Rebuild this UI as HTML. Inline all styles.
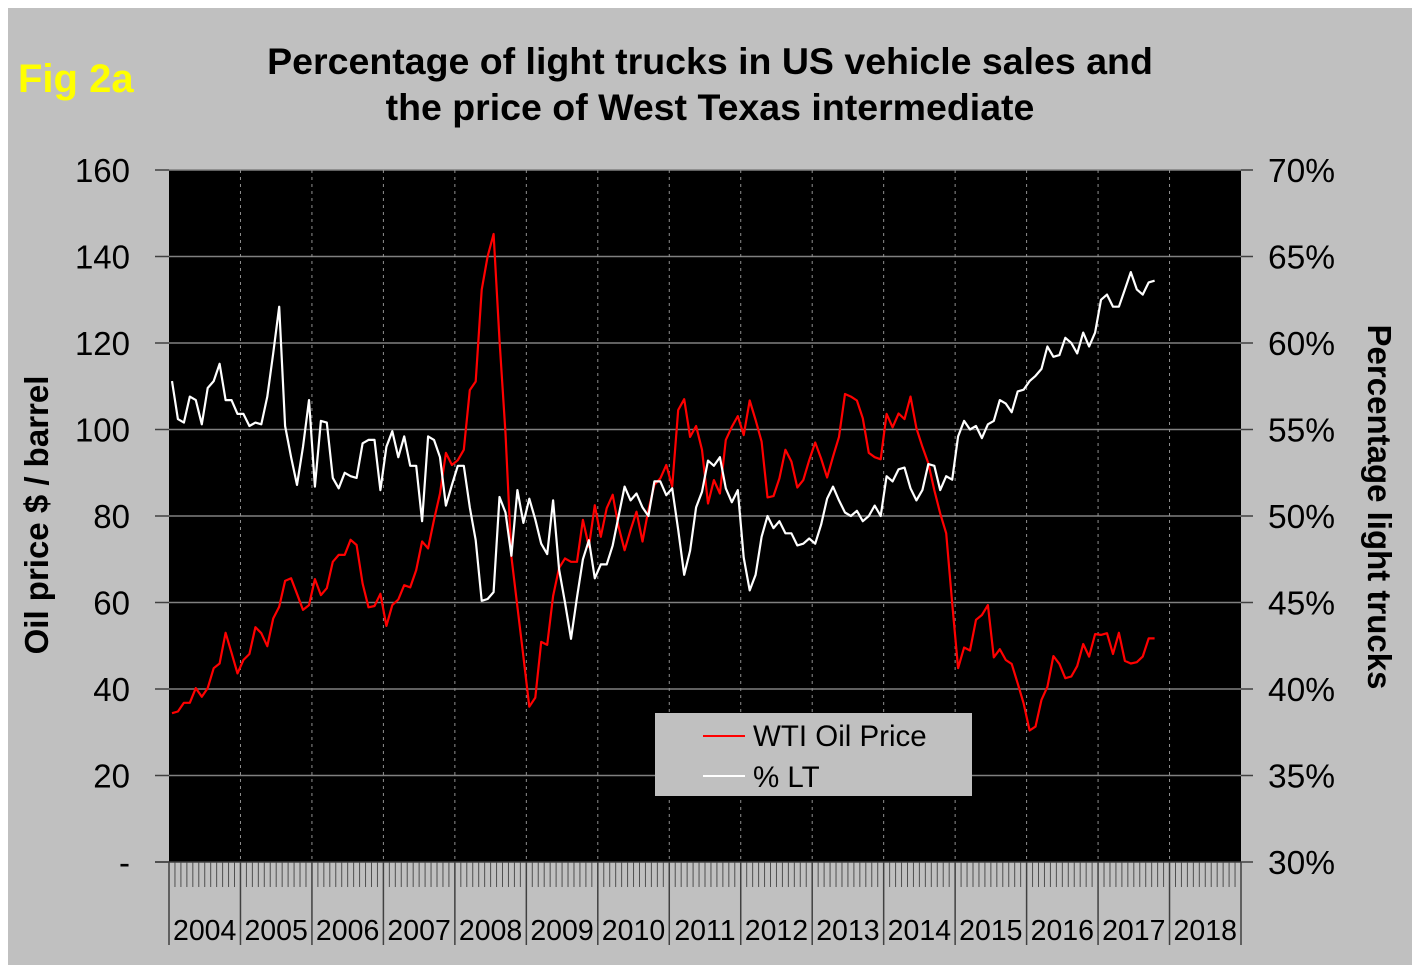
<!DOCTYPE html>
<html><head><meta charset="utf-8"><style>
html,body{margin:0;padding:0;background:#fff;}
svg{display:block;font-family:"Liberation Sans",Arial,sans-serif;}
</style></head><body>
<svg id="chart" width="1420" height="973" viewBox="0 0 1420 973">
<rect x="8" y="8" width="1404" height="957" fill="#c0c0c0"/>
<text x="18" y="92" font-size="40" font-weight="bold" fill="#ffff00">Fig 2a</text>
<text x="710" y="74" font-size="37.5" font-weight="bold" text-anchor="middle">Percentage of light trucks in US vehicle sales and</text>
<text x="710" y="120" font-size="37.5" font-weight="bold" text-anchor="middle">the price of West Texas intermediate</text>
<rect x="169" y="170" width="1072" height="692" fill="#000"/>
<g id="grid"></g>
<g id="axes"></g>
<g id="series"></g>
<text transform="translate(48,515) rotate(-90)" font-size="33" font-weight="bold" text-anchor="middle">Oil price $ / barrel</text>
<text transform="translate(1368,507) rotate(90)" font-size="33" font-weight="bold" text-anchor="middle">Percentage light trucks</text>
<g>
<rect x="655" y="713" width="317" height="83" fill="#c0c0c0"/>
<line x1="703" y1="736" x2="745" y2="736" stroke="#ff0000" stroke-width="2"/>
<text x="753" y="746" font-size="29.5">WTI Oil Price</text>
<line x1="703" y1="776" x2="745" y2="776" stroke="#fff" stroke-width="2"/>
<text x="753" y="787" font-size="29.5">% LT</text>
</g>
</svg>
<script>
const years = ["2004","2005","2006","2007","2008","2009","2010","2011","2012","2013","2014","2015","2016","2017","2018"];
const leftTicks = [0,20,40,60,80,100,120,140,160];
const leftTickLabels = ["-","20","40","60","80","100","120","140","160"];
const rightTickLabels = ["30%","35%","40%","45%","50%","55%","60%","65%","70%"];
const oilPrice = [34.4,34.8,36.8,36.8,40.2,38.2,40.2,44.8,45.9,53.0,48.4,43.6,
46.7,48.1,54.3,52.9,49.9,56.3,59.0,65.0,65.6,62.0,58.3,59.4,
65.4,61.7,63.3,69.4,71.0,71.0,74.5,73.3,64.4,58.9,59.2,62.0,
54.6,59.4,60.7,64.0,63.5,67.5,74.1,72.5,79.1,85.2,94.6,91.8,
92.9,95.3,109.1,111.1,132.3,140.0,145.2,120.7,99.1,70.6,59.0,47.5,
35.9,38.0,50.9,50.2,61.5,68.0,70.2,69.4,69.4,79.1,72.9,82.5,
75.2,81.8,84.9,77.5,72.1,76.8,81.0,74.1,81.4,87.2,88.7,91.8,
86.8,104.5,107.0,98.3,100.8,95.3,82.9,88.3,85.2,97.6,100.6,103.1,
98.7,106.7,102.2,97.2,84.3,84.6,88.7,95.3,92.6,86.6,88.3,92.9,
97.0,93.3,88.9,93.7,98.3,108.2,107.6,106.7,102.6,94.6,93.6,93.1,
103.6,100.5,103.7,102.4,107.6,100.3,96.0,92.2,86.0,80.6,76.0,59.8,
44.8,49.6,48.9,56.0,57.1,59.4,47.3,49.2,46.7,45.8,41.3,36.7,
30.4,31.3,37.5,40.5,47.6,45.8,42.5,42.9,45.3,50.4,47.5,52.7,
52.5,52.9,48.1,53.0,46.5,45.9,46.2,47.5,51.7,51.7];
const ltPct = [57.8,55.6,55.4,56.9,56.7,55.3,57.4,57.8,58.8,56.7,56.7,55.9,
55.9,55.2,55.4,55.3,56.9,59.4,62.1,55.2,53.4,51.8,54.0,56.7,
51.7,55.5,55.4,52.2,51.6,52.5,52.3,52.2,54.2,54.4,54.4,51.5,
54.0,54.9,53.4,54.6,52.9,52.9,49.7,54.6,54.4,53.4,50.6,51.8,
52.9,52.9,50.5,48.6,45.1,45.2,45.6,51.1,50.2,47.7,51.5,49.6,
51.0,49.8,48.4,47.8,50.9,46.9,45.0,42.9,45.3,47.5,48.6,46.4,
47.2,47.2,48.3,50.0,51.7,50.9,51.3,50.5,50.0,52.0,52.0,51.2,
51.6,49.2,46.6,48.0,50.5,51.4,53.2,52.9,53.4,51.6,50.8,51.5,
47.6,45.7,46.6,48.8,50.0,49.3,49.7,49.0,49.0,48.3,48.4,48.7,
48.4,49.5,51.0,51.7,50.9,50.2,50.0,50.3,49.7,50.0,50.6,50.0,
52.3,52.0,52.7,52.8,51.6,50.9,51.5,53.0,52.9,51.5,52.3,52.1,
54.6,55.5,55.0,55.2,54.5,55.3,55.5,56.7,56.5,56.0,57.2,57.3,
57.8,58.1,58.5,59.8,59.2,59.3,60.3,60.0,59.4,60.6,59.8,60.6,
62.5,62.8,62.1,62.1,63.1,64.1,63.1,62.8,63.5,63.6];

const NS="http://www.w3.org/2000/svg";
const X0=169, X1=1241, Y0=862, Y1=170;
const nMonths = years.length*12;
const mw=(X1-X0)/nMonths;
function xMonth(i){return X0+mw*(i+0.5);}
function yLeft(v){return Y0-(v/160)*(Y0-Y1);}
function yRight(p){return Y0-((p-30)/40)*(Y0-Y1);}
function mk(tag,attrs,parent,text){const e=document.createElementNS(NS,tag);for(const k in attrs)e.setAttribute(k,attrs[k]);if(text!==undefined)e.textContent=text;parent.appendChild(e);return e;}
const grid=document.getElementById('grid'), axes=document.getElementById('axes'), series=document.getElementById('series');

leftTicks.forEach((v,i)=>{
  const y=yLeft(v);
  if(i>0){const g=mk('line',{x1:X0,x2:X1,y1:y,y2:y,stroke:'#808080','stroke-width':1.5},grid);
  
  }
  const t=mk('line',{x1:155,x2:X0,y1:y,y2:y,stroke:'#404040','stroke-width':1.5},axes);
  
  
  const lt=mk('text',{x:130,y:y+12,'font-size':33,'text-anchor':'end'},axes,leftTickLabels[i]);
  
  
  const t2=mk('line',{x1:X1,x2:X1+12,y1:y,y2:y,stroke:'#404040','stroke-width':1.5},axes);
  
  
  const rt=mk('text',{x:1268,y:y+12,'font-size':33.5},axes,rightTickLabels[i]);
  
  
});
years.forEach((yr,k)=>{
  const x=X0+k*12*mw;
  if(k>0){const d=mk('line',{x1:x,x2:x,y1:Y1,y2:Y0,stroke:'#909090','stroke-width':1,'stroke-dasharray':'3,4'},grid);
  
  }
  const s=mk('line',{x1:x,x2:x,y1:Y0,y2:945,stroke:'#404040','stroke-width':1.5},axes);
  
  
  const lb=mk('text',{x:x+35.7,y:940,'font-size':28.5,'text-anchor':'middle'},axes,yr);
  
  
  for(let m=1;m<12;m++){const xm=x+m*mw;
    const mt=mk('line',{x1:xm,x2:xm,y1:Y0,y2:887,stroke:'#505050','stroke-width':1},axes);
    
    }
});
const endLine=mk('line',{x1:X1,x2:X1,y1:Y0,y2:945,stroke:'#404040','stroke-width':1.5},axes);


const xax=mk('line',{x1:155,x2:X1,y1:Y0,y2:Y0,stroke:'#404040','stroke-width':1.5},axes);



const oilPts=oilPrice.map((v,i)=>xMonth(i).toFixed(1)+','+yLeft(v).toFixed(1)).join(' ');
const oil=mk('polyline',{points:oilPts,fill:'none',stroke:'#ff0000','stroke-width':2.2,'stroke-linejoin':'round'},series);


const ltPts=ltPct.map((v,i)=>xMonth(i).toFixed(1)+','+yRight(v).toFixed(1)).join(' ');
const lt=mk('polyline',{points:ltPts,fill:'none',stroke:'#ffffff','stroke-width':2.2,'stroke-linejoin':'round'},series);


</script>
</body></html>
